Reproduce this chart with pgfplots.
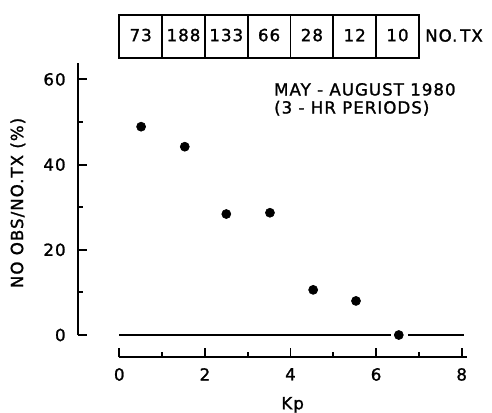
\documentclass[border=0pt]{standalone}
\usepackage{fontspec}
\setmainfont{DejaVu Sans}[FakeBold=1.4, LetterSpace=6]
\usepackage{pgfplots}
\pgfplotsset{compat=1.18}

\newcommand{\lab}{\fontsize{10}{12}\selectfont}

\pgfplotsset{
  kpax/.style={
    x=25.68pt, y=2.556pt, enlargelimits=false, clip=false,
    axis line style={line width=1.1pt},
    tick style={line width=1.1pt, black},
    major tick length=5.4pt, minor tick length=3pt,
    ticklabel style={font=\lab},
    /pgf/number format/assume math mode=true,
  }
}

\begin{document}
\begin{tikzpicture}
\begin{axis}[kpax, name=main,
  xmin=-0.96, xmax=8.12, ymin=0, ymax=63.8,
  axis y line*=left, axis x line=none,
  tick align=inside, ytick align=inside,
  ytick={0,20,40,60}, minor ytick={10,30,50},
  yticklabel style={xshift=-4pt},
]
% zero line, broken around the last point
\addplot[black, line width=1.1pt] coordinates {(0,0) (6.34,0)};
\addplot[black, line width=1.1pt] coordinates {(6.74,0) (8.05,0)};
\addplot[only marks, mark=*, mark size=2.7pt, black] coordinates {
  (0.51,48.9) (1.53,44.2) (2.5,28.4) (3.52,28.7) (4.53,10.6) (5.53,8.0) (6.53,0)};

% NO. TX boxes above the plot
\draw[line width=1.1pt] (axis cs:0,65) rectangle (axis cs:7,75.1);
\draw[line width=1.1pt] (axis cs:1,65) -- (axis cs:1,75.1);
\draw[line width=1.1pt] (axis cs:2,65) -- (axis cs:2,75.1);
\draw[line width=1.1pt] (axis cs:3,65) -- (axis cs:3,75.1);
\draw[line width=1.1pt] (axis cs:4,65) -- (axis cs:4,75.1);
\draw[line width=1.1pt] (axis cs:5,65) -- (axis cs:5,75.1);
\draw[line width=1.1pt] (axis cs:6,65) -- (axis cs:6,75.1);
\node[font=\lab] at (axis cs:0.5,70.4) {73};
\node[font=\lab] at (axis cs:1.5,70.4) {188};
\node[font=\lab] at (axis cs:2.5,70.4) {133};
\node[font=\lab] at (axis cs:3.5,70.4) {66};
\node[font=\lab] at (axis cs:4.5,70.4) {28};
\node[font=\lab] at (axis cs:5.5,70.4) {12};
\node[font=\lab] at (axis cs:6.5,70.4) {10};
\node[font=\lab, anchor=west, inner sep=0pt] at (axis cs:7.14,70.3) {NO.\,TX};

\node[anchor=north west, align=left, inner sep=0pt, font=\fontsize{10}{10.8}\selectfont]
  at (axis cs:3.61,59.2) {MAY - AUGUST 1980\\(3 - HR PERIODS)};

\node[rotate=90, font=\lab] at (axis cs:-2.37,31) {NO OBS/NO.TX (\%)};
\node[font=\lab] at (axis cs:4.05,-16.4) {Kp};

\coordinate (xo) at (axis cs:0,-5.23);
\coordinate (bbll) at (axis cs:-2.787,-18.08);
\coordinate (bbur) at (axis cs:8.708,78.64);
\end{axis}

\begin{axis}[kpax, at={(xo)}, anchor=south west,
  xmin=0, xmax=8.12, ymin=0, ymax=1,
  axis x line*=bottom, axis y line=none,
  tick align=inside, xtick align=inside,
  xtick={0,2,4,6,8}, minor xtick={1,3,5,7},
  xticklabel style={yshift=-3pt},
]
\end{axis}

\pgfresetboundingbox
\path[use as bounding box] (bbll) rectangle (bbur);
\end{tikzpicture}
\end{document}
